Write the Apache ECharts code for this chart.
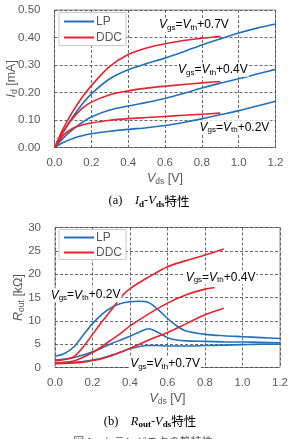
<!DOCTYPE html>
<html><head><meta charset="utf-8">
<script src="https://cdn.jsdelivr.net/npm/echarts@6/dist/echarts.min.js"></script>
<style>html,body{margin:0;padding:0;background:#fff;}#c{width:288px;height:439px;}</style>
</head><body><div id="c"></div>
<script>
// ---------- Data: (a) Id-Vds ----------
const vdsLP = [0, 0.05, 0.1, 0.15, 0.2, 0.3, 0.4, 0.5, 0.6, 0.7, 0.8, 0.9, 1.0, 1.1, 1.2];
const idLP07 = [0, 0.06, 0.112, 0.157, 0.195, 0.25, 0.283, 0.305, 0.325, 0.348, 0.373, 0.395, 0.416, 0.434, 0.449];
const idLP04 = [0, 0.036, 0.066, 0.091, 0.111, 0.136, 0.151, 0.164, 0.178, 0.196, 0.216, 0.234, 0.25, 0.267, 0.284];
const idLP02 = [0, 0.019, 0.033, 0.043, 0.05, 0.059, 0.066, 0.072, 0.08, 0.091, 0.104, 0.119, 0.134, 0.151, 0.168];
const vdsDDC = [0, 0.05, 0.1, 0.15, 0.2, 0.3, 0.4, 0.5, 0.6, 0.7, 0.8, 0.9];
const idDDC07 = [0, 0.072, 0.132, 0.183, 0.225, 0.295, 0.338, 0.362, 0.377, 0.389, 0.397, 0.404];
const idDDC04 = [0, 0.06, 0.106, 0.142, 0.165, 0.192, 0.206, 0.216, 0.223, 0.229, 0.235, 0.24];
const idDDC02 = [0, 0.046, 0.07, 0.082, 0.089, 0.099, 0.105, 0.109, 0.113, 0.117, 0.121, 0.125];

// ---------- Data: (b) Rout-Vds ----------
const vdsLPb = [0, 0.05, 0.1, 0.15, 0.2, 0.25, 0.3, 0.35, 0.4, 0.45, 0.5, 0.55, 0.6, 0.65, 0.7, 0.8, 0.9, 1.0, 1.1, 1.2];
const rLP02 = [2.4, 3.0, 4.4, 6.9, 9.4, 11.4, 12.8, 13.7, 14.1, 14.2, 13.9, 12.4, 10.5, 8.9, 7.8, 7.1, 6.8, 6.6, 6.4, 6.2];
const rLP04 = [1.6, 1.8, 2.1, 2.7, 3.4, 4.2, 5.1, 5.9, 6.7, 7.6, 8.3, 7.5, 6.4, 5.9, 5.7, 5.6, 5.5, 5.45, 5.4, 5.3];
const rLP07 = [1.0, 1.05, 1.1, 1.3, 1.6, 2.0, 2.6, 3.3, 4.0, 4.5, 4.7, 4.7, 4.6, 4.6, 4.6, 4.7, 4.8, 4.9, 5.0, 5.0];
const vdsDDCb = [0, 0.05, 0.1, 0.15, 0.2, 0.25, 0.3, 0.35, 0.4, 0.5, 0.6, 0.7, 0.8, 0.9];
const rDDC02 = [1.4, 1.7, 2.3, 4.4, 7.1, 9.8, 12.3, 15.0, 16.9, 19.4, 21.6, 22.9, 24.1, 25.4];
const rDDC07 = [0.8, 0.85, 0.95, 1.15, 1.5, 1.9, 2.5, 3.3, 4.1, 5.9, 7.5, 9.4, 11.3, 12.7];
const vdsDDCb04 = [0, 0.05, 0.1, 0.15, 0.2, 0.25, 0.3, 0.35, 0.4, 0.5, 0.6, 0.7, 0.8, 0.85];
const rDDC04 = [1.0, 1.1, 1.4, 2.2, 3.2, 4.5, 5.9, 7.3, 8.9, 11.5, 13.8, 15.6, 16.8, 17.1];

const xTicksTop = [0, 1.2, 0.2];
const yTicksTop = [0, 0.5, 0.1];
const yTicksBot = [0, 30, 5];

// annotation anchors (data coords)
const annTop = [[0.757, 0.445, '0.7'], [0.86, 0.283, '0.4'], [0.977, 0.0735, '0.2']];
const annBot = [[0.883, 19.35, '0.4'], [0.163, 15.5, '0.2'], [0.587, 0.9, '0.7']];

const FONT = '"Liberation Sans", Arial, sans-serif';
const SERIF = '"Liberation Serif", "Times New Roman", "Noto Sans CJK JP", serif';
const BLUE = '#2370b8', RED = '#e8232e';
const GRAY = '#595959';

const zip = (xs, ys) => xs.map((x, i) => [x, ys[i]]);

function line(name, color, xs, ys, gi) {
  return {
    type: 'line', name, xAxisIndex: gi, yAxisIndex: gi,
    data: zip(xs, ys), symbol: 'none', showSymbol: false, smooth: 0.3,
    lineStyle: { color, width: 1.6 }, itemStyle: { color }, z: 3
  };
}

const gridSplit = { show: true, lineStyle: { color: '#444', type: [3, 2], width: 0.8 } };
const nameRich = {
  i: { fontSize: 12.5, fontStyle: 'italic', color: GRAY, fontFamily: FONT, lineHeight: 15 },
  s: { fontSize: 8.5, color: GRAY, fontFamily: FONT, lineHeight: 9, verticalAlign: 'bottom' },
  n: { fontSize: 12.5, color: GRAY, fontFamily: FONT, lineHeight: 15 }
};

function xAxis(gi) {
  return {
    type: 'value', gridIndex: gi, min: xTicksTop[0], max: xTicksTop[1], interval: xTicksTop[2],
    axisLine: { show: false }, axisTick: { show: false }, splitLine: gridSplit,
    axisLabel: { color: GRAY, fontSize: 11.5, fontFamily: FONT, margin: 9, formatter: v => v.toFixed(1) },
    name: '{i|V}{s|ds}{n| [V]}', nameLocation: 'middle', nameGap: 24, nameMoveOverlap: false,
    nameTextStyle: { rich: nameRich }
  };
}

const option = {
  animation: false,
  backgroundColor: '#fff',
  grid: [
    { left: 54.5, top: 10, width: 221, height: 137.5, outerBoundsMode: 'none', containLabel: false, show: true, borderColor: '#8c8c8c', borderWidth: 1, backgroundColor: 'transparent' },
    { left: 55, top: 227.5, width: 225, height: 140, outerBoundsMode: 'none', containLabel: false, show: true, borderColor: '#8c8c8c', borderWidth: 1, backgroundColor: 'transparent' }
  ],
  xAxis: [xAxis(0), xAxis(1)],
  yAxis: [
    {
      type: 'value', gridIndex: 0, min: yTicksTop[0], max: yTicksTop[1], interval: yTicksTop[2],
      axisLine: { show: false }, axisTick: { show: false }, splitLine: gridSplit,
      axisLabel: { color: GRAY, fontSize: 11.5, fontFamily: FONT, margin: 14, formatter: v => v.toFixed(2) },
      name: '{i|I}{s|d}{n| [mA]}', nameLocation: 'middle', nameGap: 35, nameRotate: 90, nameMoveOverlap: false,
      nameTextStyle: { rich: nameRich }
    },
    {
      type: 'value', gridIndex: 1, min: yTicksBot[0], max: yTicksBot[1], interval: yTicksBot[2],
      axisLine: { show: false }, axisTick: { show: false }, splitLine: gridSplit,
      axisLabel: { color: GRAY, fontSize: 11.5, fontFamily: FONT, margin: 14 },
      name: '{i|R}{s|out}{n| [kΩ]}', nameLocation: 'middle', nameGap: 29, nameRotate: 90, nameMoveOverlap: false,
      nameTextStyle: { rich: nameRich }
    }
  ],
  legend: [
    { left: 59, top: 12.5, orient: 'vertical', data: ['LP', 'DDC'], icon: 'rect', itemWidth: 30, itemHeight: 2, itemGap: 4,
      padding: [3, 4, 2, 5], backgroundColor: '#fff', borderColor: '#c8c8c8', borderWidth: 1,
      textStyle: { color: GRAY, fontSize: 12, fontFamily: FONT, padding: [0, 0, 0, -3] } },
    { left: 59, top: 229.5, orient: 'vertical', data: ['LP', 'DDC'], icon: 'rect', itemWidth: 30, itemHeight: 2, itemGap: 3,
      padding: [2, 4, 1, 5], backgroundColor: '#fff', borderColor: '#c8c8c8', borderWidth: 1,
      textStyle: { color: GRAY, fontSize: 12, fontFamily: FONT, padding: [0, 0, 0, -3] } }
  ],
  series: [
    line('LP', BLUE, vdsLP, idLP07, 0),
    line('LP', BLUE, vdsLP, idLP04, 0),
    line('LP', BLUE, vdsLP, idLP02, 0),
    line('DDC', RED, vdsDDC, idDDC07, 0),
    line('DDC', RED, vdsDDC, idDDC04, 0),
    line('DDC', RED, vdsDDC, idDDC02, 0),
    line('LP', BLUE, vdsLPb, rLP02, 1),
    line('LP', BLUE, vdsLPb, rLP04, 1),
    line('LP', BLUE, vdsLPb, rLP07, 1),
    line('DDC', RED, vdsDDCb, rDDC02, 1),
    line('DDC', RED, vdsDDCb04, rDDC04, 1),
    line('DDC', RED, vdsDDCb, rDDC07, 1)
  ]
};

const chart = echarts.init(document.getElementById('c'), null, { renderer: 'canvas' });
chart.setOption(option);

const annRich = {
  i: { fontSize: 12, fontStyle: 'italic', color: '#111', fontFamily: FONT, lineHeight: 14 },
  s: { fontSize: 8, color: '#111', fontFamily: FONT, lineHeight: 8, verticalAlign: 'bottom' },
  n: { fontSize: 12, color: '#111', fontFamily: FONT, lineHeight: 14 }
};
function annText(p, v) {
  return {
    type: 'text', x: p[0], y: p[1], z: 10,
    style: { text: '{i|V}{s|gs}{n|=}{i|V}{s|th}{n|+' + v + 'V}', rich: annRich,
      align: 'center', verticalAlign: 'middle', backgroundColor: '#fff', padding: [0, 1] }
  };
}
const graphics = [];
annTop.forEach(a => graphics.push(annText(chart.convertToPixel({ xAxisIndex: 0, yAxisIndex: 0 }, [a[0], a[1]]), a[2])));
annBot.forEach(a => graphics.push(annText(chart.convertToPixel({ xAxisIndex: 1, yAxisIndex: 1 }, [a[0], a[1]]), a[2])));

const capRich = {
  n: { fontSize: 12.5, fontFamily: SERIF, color: '#222', lineHeight: 16 },
  i: { fontSize: 12.5, fontFamily: SERIF, fontStyle: 'italic', color: '#222', lineHeight: 16 },
  s: { fontSize: 9, fontFamily: SERIF, fontWeight: 'bold', color: '#222', lineHeight: 9, verticalAlign: 'bottom' },
  j: { fontSize: 12.5, fontFamily: '"Noto Sans CJK JP", serif', color: '#222', lineHeight: 16 }
};
graphics.push({ type: 'text', x: 149, y: 201, style: { text: '{n|(a)    }{i|I}{s|d}{n|-}{i|V}{s|ds}{j|特性}', rich: capRich, align: 'center', verticalAlign: 'middle' } });
graphics.push({ type: 'text', x: 150, y: 421.5, style: { text: '{n|(b)    }{i|R}{s|out}{n|-}{i|V}{s|ds}{j|特性}', rich: capRich, align: 'center', verticalAlign: 'middle' } });
graphics.push({ type: 'text', x: 143, y: 436, style: { text: '図 1    トランジスタの静特性', font: '11px "Noto Sans CJK JP"', fill: '#555', align: 'center', verticalAlign: 'top' } });

chart.setOption({ graphic: graphics });
</script></body></html>
